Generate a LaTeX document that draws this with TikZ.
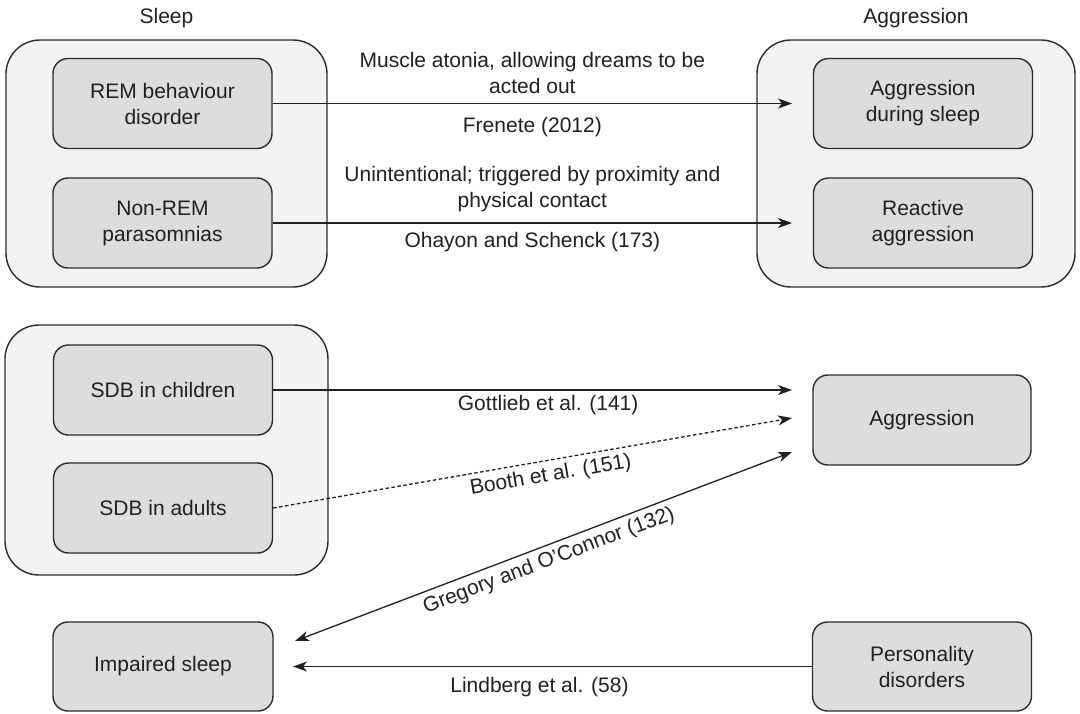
\documentclass[tikz,border=0pt]{standalone}
\usepackage{fontspec}
\setmainfont{Liberation Sans}
\usetikzlibrary{arrows.meta}
\definecolor{outerfill}{HTML}{F2F3F3}
\definecolor{innerfill}{HTML}{DCDDDF}
\definecolor{edgecol}{HTML}{2B2B2B}
\definecolor{txt}{HTML}{231F20}
\begin{document}
\begin{tikzpicture}[x=1pt,y=-1pt,
  every node/.style={font=\fontsize{21}{26}\selectfont, text=txt},
  outerbox/.style={draw=edgecol, line width=1.4pt, fill=outerfill, rounded corners=34pt, inner sep=0pt},
  innerbox/.style={draw=edgecol, line width=1.4pt, fill=innerfill, rounded corners=15pt,
    minimum width=219pt, minimum height=90pt, align=center, inner sep=0pt},
  tip/.style={Stealth[length=14pt,width=10pt,inset=4pt]},
  arr/.style={draw=txt, line width=1.3pt, -{Stealth[length=14pt,width=10pt,inset=4pt]}},
  dblarr/.style={draw=txt, line width=1.3pt, {Stealth[length=14pt,width=10pt,inset=4pt]}-{Stealth[length=14pt,width=10pt,inset=4pt]}},
  lbl/.style={inner sep=0pt, align=center}]
\useasboundingbox (0,0) rectangle (1080,713);

% group boxes
\node[outerbox, minimum width=321pt, minimum height=247pt] (sleepbox) at (166.5,163.5) {};
\node[outerbox, minimum width=318pt, minimum height=247pt] (aggbox) at (916,163.5) {};
\node[outerbox, minimum width=323pt, minimum height=250pt] (sdbbox) at (166.5,450) {};

% headings
\node (sleeplbl) at (166.5,18) {Sleep};
\node (agglbl) at (916,18) {Aggression};

% inner boxes
\node[innerbox] (rem) at (162.5,103.5) {REM behaviour\\disorder};
\node[innerbox] (nrem) at (162.5,223) {Non-REM\\parasomnias};
\node[innerbox] (ads) at (923,103.5) {Aggression\\during sleep};
\node[innerbox] (react) at (923,223) {Reactive\\aggression};
\node[innerbox] (sdbc) at (163,390) {SDB in children};
\node[innerbox] (sdba) at (163,508) {SDB in adults};
\node[innerbox, minimum width=218pt] (agg) at (922,420) {Aggression};
\node[innerbox, minimum width=220pt, minimum height=89pt] (imp) at (163,666.5) {Impaired sleep};
\node[innerbox, minimum height=89pt] (pers) at (922,666.5) {Personality\\disorders};

% free ends of connectors
\coordinate (e1) at (792,103.5);
\coordinate (e2) at (792,223);
\coordinate (e3) at (792,390);
\coordinate (e4) at (792,418);
\coordinate (g1) at (295,641);
\coordinate (g2) at (792,452);
\coordinate (e6) at (293,666.5);

% connectors
\draw[arr] (rem.east) -- (e1)
  node[lbl, midway, above=9.5pt] {Muscle atonia, allowing dreams to be\\acted out}
  node[lbl, midway, below=13pt] {Frenete (2012)};
\draw[arr] (nrem.east) -- (e2)
  node[lbl, midway, above=10pt] {Unintentional; triggered by proximity and\\physical contact}
  node[lbl, midway, below=9pt] {Ohayon and Schenck (173)};
\draw[arr] (sdbc.east) -- (e3)
  node[lbl, pos=0.53, below=5pt] {Gottlieb et al. (141)};
\draw[arr, dash pattern=on 3.5pt off 2.5pt] (sdba.east) -- (e4)
  node[lbl, pos=0.53, sloped, below=5pt] {Booth et al. (151)};
\draw[dblarr] (g1) -- (g2)
  node[lbl, midway, sloped, below=5pt] {Gregory and O’Connor (132)};
\draw[arr] (pers.west) -- (e6)
  node[lbl, pos=0.525, below=10pt] {Lindberg et al. (58)};
\end{tikzpicture}
\end{document}
